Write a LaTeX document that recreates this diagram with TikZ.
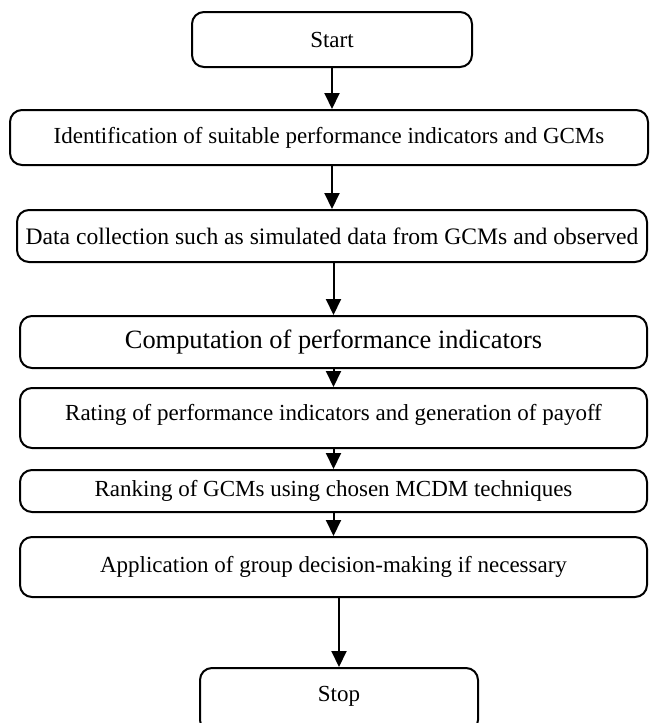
\documentclass[tikz,border=0pt]{standalone}
\usepackage{fontspec}
\setmainfont{Liberation Serif}
\usetikzlibrary{arrows.meta}
\tikzset{
  stepbox/.style={draw, line width=1pt, rounded corners=6pt, align=center,
    font=\fontsize{11.5}{13.8}\selectfont},
  flow/.style={line width=1pt, -{Triangle[length=8pt,width=7.5pt]}}
}
\begin{document}
\begin{tikzpicture}[x=0.5pt,y=-0.5pt]
      \clip (0,0) rectangle (651,723);
      \draw
        (332,39.5) node[stepbox, minimum width=140pt, minimum height=27.5pt] (start){Start}
        (329,137.5) node[stepbox, minimum width=319pt, minimum height=27.5pt] (ident){Identification of suitable performance indicators and GCMs}
        (332,236) node[stepbox, minimum width=315pt, minimum height=26pt, font=\fontsize{11.8}{14}\selectfont] (data){Data collection such as simulated data from GCMs and observed}
        (333.5,342) node[stepbox, minimum width=313.5pt, minimum height=26pt, font=\fontsize{13.2}{15.8}\selectfont] (comp){Computation of performance indicators}
        (333.5,418) node[stepbox, minimum width=313.5pt, minimum height=30pt, text depth=6pt] (rating){Rating of performance indicators and generation of payoff}
        (333.5,491) node[stepbox, minimum width=313.5pt, minimum height=21pt] (rank){Ranking of GCMs using chosen MCDM techniques}
        (333.5,567) node[stepbox, minimum width=313.5pt, minimum height=30pt] (appl){Application of group decision-making if necessary}
        (339,700) node[stepbox, minimum width=139pt, minimum height=32pt, text depth=6pt] (stop){Stop};
      \begin{scope}[flow]
        \draw (start) to (start |- ident.north);
        \draw (ident.south -| start) to (start |- data.north);
        \draw (data.south -| comp) to (comp);
        \draw (comp) to (rating);
        \draw (rating) to (rank);
        \draw (rank) to (appl);
        \draw (appl.south -| stop) to (stop);
      \end{scope}
    \end{tikzpicture}
\end{document}
